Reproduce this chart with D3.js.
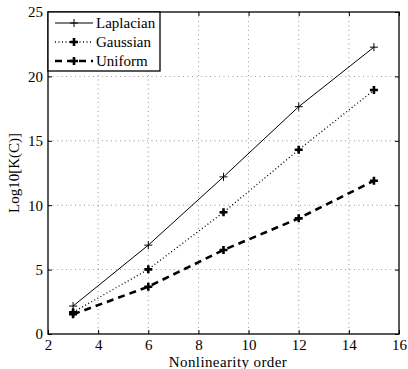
<!DOCTYPE html>
<html><head><meta charset="utf-8">
<script src="https://cdn.jsdelivr.net/npm/d3@7"></script>
<style>body{margin:0;background:#fff;}svg{display:block;}</style>
</head><body><svg id="c" width="408" height="369"></svg>
<script>
const orders = [3, 6, 9, 12, 15];
const laplacian = [2.17, 6.9, 12.2, 17.65, 22.27];
const gaussian = [1.68, 5.02, 9.45, 14.3, 18.94];
const uniform = [1.53, 3.67, 6.52, 8.98, 11.9];
const xTicks = [2, 4, 6, 8, 10, 12, 14, 16];
const yTicks = [0, 5, 10, 15, 20, 25];
const seriesNames = ["Laplacian", "Gaussian", "Uniform"];

const svg = d3.select("#c");
const L = 48, R = 399, T = 12, B = 334;
const x = d3.scaleLinear().domain([2, 16]).range([L, R]);
const y = d3.scaleLinear().domain([0, 25]).range([B, T]);
const FONT = "Liberation Serif";
const fs = 15;

// grid
const g = svg.append("g");
g.selectAll(".gx").data(xTicks.slice(1, -1)).enter().append("line")
  .attr("x1", d => x(d)).attr("x2", d => x(d)).attr("y1", T).attr("y2", B)
  .attr("stroke", "#000").attr("stroke-width", 0.7).attr("stroke-dasharray", "1,3.5").attr("opacity", 0.6);
g.selectAll(".gy").data(yTicks.slice(1, -1)).enter().append("line")
  .attr("y1", d => y(d)).attr("y2", d => y(d)).attr("x1", L).attr("x2", R)
  .attr("stroke", "#000").attr("stroke-width", 0.7).attr("stroke-dasharray", "1,3.5").attr("opacity", 0.6);

// axes
svg.append("g").attr("transform", `translate(0,${B})`)
  .call(d3.axisBottom(x).tickValues(xTicks).tickSize(-4).tickPadding(5.5).tickSizeOuter(0));
svg.append("g").attr("transform", `translate(${L},0)`)
  .call(d3.axisLeft(y).tickValues(yTicks).tickSize(-4).tickPadding(5).tickSizeOuter(0));
svg.append("g").attr("transform", `translate(0,${T})`)
  .call(d3.axisTop(x).tickValues(xTicks).tickSize(-4).tickFormat("").tickSizeOuter(0));
svg.append("g").attr("transform", `translate(${R},0)`)
  .call(d3.axisRight(y).tickValues(yTicks).tickSize(-4).tickFormat("").tickSizeOuter(0));
svg.selectAll(".domain").remove();
svg.selectAll(".tick line").attr("stroke", "#000").attr("stroke-width", 1);
svg.selectAll(".tick text").attr("font-family", FONT).attr("font-size", fs).attr("fill", "#000");

svg.append("rect").attr("x", L).attr("y", T).attr("width", R - L).attr("height", B - T)
  .attr("fill", "none").attr("stroke", "#000").attr("stroke-width", 1.3);

svg.append("text").attr("x", 228).attr("y", 367).attr("text-anchor", "middle")
  .attr("font-family", FONT).attr("font-size", fs).attr("letter-spacing", 0.4).text("Nonlinearity order");
svg.append("text").attr("transform", `translate(19,${(T + B) / 2}) rotate(-90)`).attr("text-anchor", "middle")
  .attr("font-family", FONT).attr("font-size", fs).text("Log10[K(C)]");

const styles = [
  {vals: laplacian, w: 1, dash: null, mw: 1, ms: 4},
  {vals: gaussian, w: 1.3, dash: "1,2.5", mw: 2.6, ms: 4},
  {vals: uniform, w: 2.6, dash: "7,5", mw: 2.6, ms: 4}
];
const line = d3.line().x((d, i) => x(orders[i])).y(d => y(d));
styles.forEach(s => {
  svg.append("path").datum(s.vals).attr("d", line).attr("fill", "none")
    .attr("stroke", "#000").attr("stroke-width", s.w).attr("stroke-dasharray", s.dash);
  s.vals.forEach((v, i) => {
    const cx = x(orders[i]), cy = y(v);
    svg.append("path").attr("d", `M${cx - s.ms},${cy}H${cx + s.ms}M${cx},${cy - s.ms}V${cy + s.ms}`)
      .attr("stroke", "#000").attr("stroke-width", s.mw);
  });
});

// legend
const lg = svg.append("g");
lg.append("rect").attr("x", L).attr("y", T).attr("width", 112).attr("height", 59)
  .attr("fill", "#fff").attr("stroke", "#000").attr("stroke-width", 1.3);
styles.forEach((s, i) => {
  const ly = 23 + i * 19;
  lg.append("line").attr("x1", 55).attr("x2", 93).attr("y1", ly).attr("y2", ly)
    .attr("stroke", "#000").attr("stroke-width", s.w).attr("stroke-dasharray", s.dash);
  lg.append("path").attr("d", `M${74 - s.ms},${ly}H${74 + s.ms}M74,${ly - s.ms}V${ly + s.ms}`)
    .attr("stroke", "#000").attr("stroke-width", s.mw);
  lg.append("text").attr("x", 96).attr("y", ly + 5).attr("font-family", FONT).attr("font-size", fs).text(seriesNames[i]);
});
</script></body></html>
